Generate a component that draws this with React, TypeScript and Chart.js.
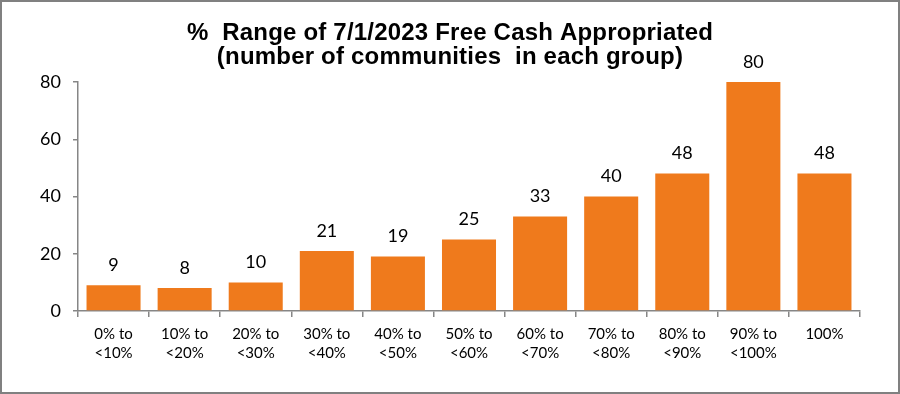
import React, { useEffect, useRef } from "react";
import { Chart, registerables } from "chart.js";

Chart.register(...registerables);

const categories: string[][] = [
  ["0% to", "<10%"],
  ["10% to", "<20%"],
  ["20% to", "<30%"],
  ["30% to", "<40%"],
  ["40% to", "<50%"],
  ["50% to", "<60%"],
  ["60% to", "<70%"],
  ["70% to", "<80%"],
  ["80% to", "<90%"],
  ["90% to", "<100%"],
  ["100%"],
];
const counts: number[] = [9, 8, 10, 21, 19, 25, 33, 40, 48, 80, 48];
const titleLines: string[] = [
  "%  Range of 7/1/2023 Free Cash Appropriated",
  "(number of communities  in each group)",
];

const AXIS = "#868686";

export default function App() {
  const ref = useRef<HTMLCanvasElement | null>(null);
  useEffect(() => {
    document.body.style.margin = "0";
    if (!ref.current) return;
    const framePlugin = {
      id: "frame",
      beforeDraw(chart: any) {
        const ctx = chart.ctx;
        ctx.save();
        ctx.fillStyle = "#fff";
        ctx.fillRect(0, 0, chart.width, chart.height);
        ctx.restore();
      },
      afterDraw(chart: any) {
        const ctx = chart.ctx;
        ctx.save();
        ctx.strokeStyle = "#808080";
        ctx.lineWidth = 2;
        ctx.strokeRect(1, 1, chart.width - 2, chart.height - 2);
        ctx.fillStyle = "#000";
        ctx.textAlign = "center";
        ctx.textBaseline = "alphabetic";
        ctx.font = "bold 24px 'Liberation Sans', Arial, sans-serif";
        try { (ctx as any).letterSpacing = "0.2px"; } catch (e) {}
        ctx.fillText(titleLines[0], 450, 40);
        ctx.fillText(titleLines[1], 450, 64);
        ctx.restore();
      },
    };
    const labelPlugin = {
      id: "valueLabels",
      afterDatasetsDraw(chart: any) {
        const ctx = chart.ctx;
        const meta = chart.getDatasetMeta(0);
        ctx.save();
        ctx.fillStyle = "#000";
        ctx.textAlign = "center";
        ctx.textBaseline = "middle";
        ctx.font = "18px Lato, sans-serif";
        meta.data.forEach((bar: any, i: number) => {
          ctx.fillText(String(counts[i]), bar.x, bar.y - 20);
        });
        ctx.restore();
      },
    };
    const chart = new Chart(ref.current, {
      type: "bar",
      data: {
        labels: categories,
        datasets: [
          {
            data: counts,
            backgroundColor: "#EF7A1C",
            barPercentage: 0.76,
            categoryPercentage: 1,
          },
        ],
      },
      options: {
        animation: false,
        responsive: false,
        maintainAspectRatio: false,
        layout: { padding: { top: 82, right: 40, left: 0, bottom: 0 } },
        plugins: {
          legend: { display: false },
          title: { display: false },
          tooltip: { enabled: false },
        },
        scales: {
          x: {
            grid: {
              display: true,
              drawOnChartArea: false,
              drawTicks: true,
              tickLength: 6,
              color: AXIS,
              lineWidth: 1.5,
              offset: true,
            },
            border: { display: true, color: AXIS, width: 1.5 },
            ticks: {
              color: "#000",
              font: { family: "Lato, sans-serif", size: 15, lineHeight: 1.3 },
              padding: 7,
              maxRotation: 0,
              autoSkip: false,
            },
            afterFit(scale: any) {
              scale.height = 83;
            },
          },
          y: {
            min: 0,
            max: 80,
            ticks: {
              stepSize: 20,
              color: "#000",
              font: { family: "Lato, sans-serif", size: 18 },
              padding: 12,
            },
            grid: {
              display: true,
              drawOnChartArea: false,
              drawTicks: true,
              tickLength: 5,
              color: AXIS,
              lineWidth: 1.5,
            },
            border: { display: true, color: AXIS, width: 1.5 },
            afterFit(scale: any) {
              scale.width = 78;
            },
          },
        },
      },
      plugins: [framePlugin, labelPlugin],
    });
    return () => chart.destroy();
  }, []);
  return (
    <div style={{ width: 900, height: 394 }}>
      <canvas ref={ref} width={900} height={394} style={{ display: "block" }} />
    </div>
  );
}
